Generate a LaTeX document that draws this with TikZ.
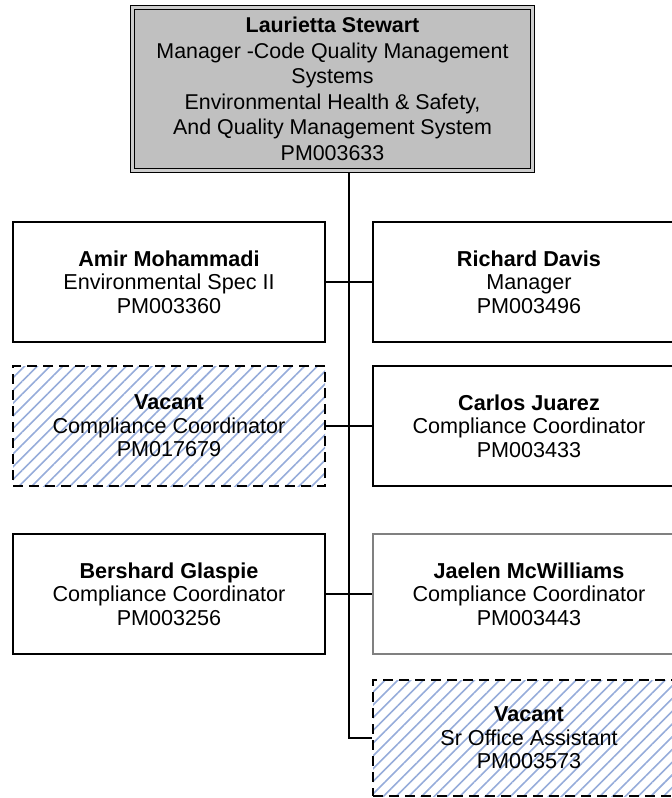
\documentclass[tikz,border=0pt]{standalone}
\usepackage{fontspec}
\setmainfont{Liberation Sans}
\usetikzlibrary{patterns.meta}
\definecolor{bossgray}{RGB}{192,192,192}
\definecolor{hatchblue}{RGB}{150,172,218}
\newcommand{\rowfont}{\fontsize{21.6}{23.5}\selectfont}
\newcommand{\topfont}{\fontsize{21.4}{25.5}\selectfont}

\tikzset{
  post/.style={draw=black,line width=1.3pt,minimum width=312pt,minimum height=120pt,
    inner sep=0pt,align=center,font=\rowfont},
  greypost/.style={post,draw=black!50},
  vacant/.style={post,dash pattern=on 10pt off 6pt,
    pattern={Lines[angle=45,distance=9pt,line width=1.6pt]},pattern color=hatchblue},
  bosspost/.style={draw=black,line width=1.3pt,double=bossgray!80!white,double distance=2.6pt,
    fill=bossgray,minimum width=399.6pt,minimum height=162.6pt,inner sep=0pt,
    align=center,font=\topfont}
}

\begin{document}
\begin{tikzpicture}[x=1pt,y=1pt]
\useasboundingbox (0,0) rectangle (672,-798);
%manager
\node[bosspost] (stewart) at (332.5,-89) {\textbf{Laurietta Stewart}\\Manager -Code Quality Management\\Systems\\Environmental Health \& Safety,\\And Quality Management System\\PM003633};
%left column
\node[post] (amir) at (169,-282) {\textbf{Amir Mohammadi}\\Environmental Spec II\\PM003360};
\node[vacant] (vacleft) at (169,-426) {\textbf{Vacant}\\Compliance Coordinator\\PM017679};
\node[post] (bershard) at (169,-594) {\textbf{Bershard Glaspie}\\Compliance Coordinator\\PM003256};
%right column
\node[post] (richard) at (529,-282) {\textbf{Richard Davis}\\Manager\\PM003496};
\node[post] (carlos) at (529,-426) {\textbf{Carlos Juarez}\\Compliance Coordinator\\PM003433};
\node[greypost] (jaelen) at (529,-594) {\textbf{Jaelen McWilliams}\\Compliance Coordinator\\PM003443};
\node[vacant,minimum height=116pt] (vacright) at (529,-738) {\textbf{Vacant}\\Sr Office Assistant\\PM003573};
%reporting lines
\coordinate (spine) at (349,-173);
\draw[line width=1.3pt] (spine) |- (vacright.west);
\draw[line width=1.3pt] (amir.east) -- (richard.west);
\draw[line width=1.3pt] (vacleft.east) -- (carlos.west);
\draw[line width=1.3pt] (bershard.east) -- (jaelen.west);
\end{tikzpicture}
\end{document}
